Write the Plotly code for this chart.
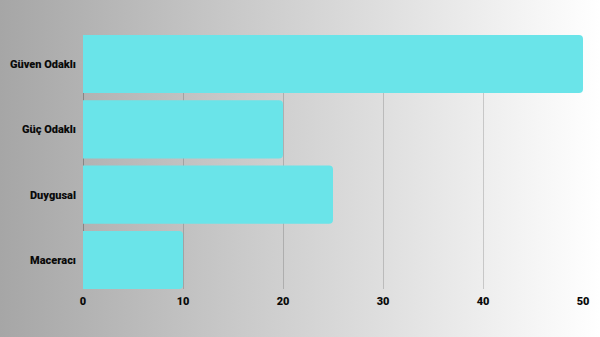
import base64
import plotly.graph_objects as go

categories = ["Güven Odaklı", "Güç Odaklı", "Duygusal", "Maceracı"]
values = [50, 20, 25, 10]
x_ticks = [0, 10, 20, 30, 40, 50]

W, H = 600, 337
ml, mr, mt, mb = 83, 17, 35, 48
pw, ph = W - ml - mr, H - mt - mb

svg = (
    '<svg xmlns="http://www.w3.org/2000/svg" width="600" height="337" preserveAspectRatio="none">'
    '<defs><linearGradient id="g" x1="0" y1="0" x2="1" y2="0">'
    '<stop offset="0" stop-color="#a6a6a6"/><stop offset="1" stop-color="#ffffff"/>'
    '</linearGradient></defs><rect width="600" height="337" fill="url(#g)"/></svg>'
)
src = "data:image/svg+xml;base64," + base64.b64encode(svg.encode()).decode()

label_font = dict(family="Roboto", size=11, color="#0a0a0a", weight=900)

fig = go.Figure(
    go.Bar(
        x=values,
        y=categories,
        orientation="h",
        marker=dict(color="#6ae4e9", line=dict(width=0)),
        hoverinfo="x+y",
    )
)

fig.update_layout(
    width=W,
    height=H,
    autosize=False,
    margin=dict(l=ml, r=mr, t=mt, b=mb, pad=0, autoexpand=False),
    paper_bgcolor="rgba(0,0,0,0)",
    plot_bgcolor="rgba(0,0,0,0)",
    bargap=0.11,
    barcornerradius=4,
    showlegend=False,
    font=label_font,
    images=[
        dict(
            source=src,
            xref="paper",
            yref="paper",
            x=-ml / pw,
            y=1 + mt / ph,
            sizex=W / pw,
            sizey=H / ph,
            sizing="stretch",
            xanchor="left",
            yanchor="top",
            layer="below",
        )
    ],
)

fig.update_xaxes(
    range=[0, 50],
    tickvals=x_ticks,
    showgrid=True,
    gridcolor="rgba(0,0,0,0.16)",
    gridwidth=1,
    zeroline=True,
    zerolinecolor="rgba(0,0,0,0.25)",
    zerolinewidth=1,
    showline=False,
    ticks="",
    ticklabelstandoff=4,
    automargin=False,
    tickfont=label_font,
    fixedrange=True,
)
fig.update_yaxes(
    categoryorder="array",
    categoryarray=categories[::-1],
    range=[-0.445, 3.445],
    showgrid=False,
    zeroline=False,
    showline=False,
    ticks="",
    automargin=False,
    ticklabelstandoff=6,
    tickfont=label_font,
    fixedrange=True,
)

fig.write_html("out.html", config={"displayModeBar": False})
